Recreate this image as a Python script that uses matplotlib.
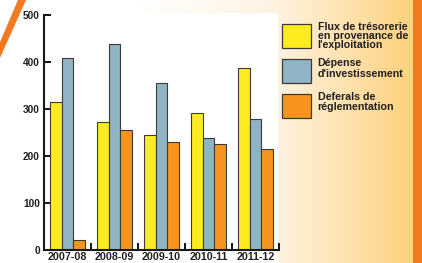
import numpy as np
import matplotlib
matplotlib.use("Agg")
import matplotlib.pyplot as plt
from matplotlib.patches import Rectangle, Polygon
from matplotlib.colors import LinearSegmentedColormap

categories = ["2007-08", "2008-09", "2009-10", "2010-11", "2011-12"]
series_names = ["Flux de trésorerie\nen provenance de\nl'exploitation",
                "Dépense\nd'investissement",
                "Deferals de\nréglementation"]
flux = [315, 272, 244, 292, 388]
depense = [408, 438, 356, 237, 279]
deferals = [20, 254, 229, 224, 214]
yticks = [0, 100, 200, 300, 400, 500]

colors = ["#FCEC1E", "#8FB4C4", "#F7941E"]
edge = "#3a3a3a"
W, H = 422, 263
plt.rcParams['font.family'] = ['Liberation Sans', 'DejaVu Sans']

fig = plt.figure(figsize=(W / 100, H / 100), dpi=100)

# background
bg = fig.add_axes([0, 0, 1, 1], zorder=0)
bg.set_xlim(0, W); bg.set_ylim(H, 0); bg.axis('off')
grad = np.linspace(0, 1, 300)[None, :]
cmap = LinearSegmentedColormap.from_list("g", ["#FFFFFF", "#FFFFFF", "#FEF3E2", "#FDD27E"], N=256)
bg.imshow(grad, extent=[0, 413, H, 0], aspect='auto', cmap=cmap, zorder=0)
bg.add_patch(Rectangle((0, 13), 278, H - 13, facecolor='white', edgecolor='none', zorder=1))
bg.add_patch(Rectangle((413, 0), W - 413, H, facecolor='#F47920', edgecolor='none', zorder=2))
bg.add_patch(Polygon([(18, 0), (26, 0), (0, 58), (0, 42)], closed=True,
                     facecolor='#F47920', edgecolor='none', zorder=2))

# legend
leg_y = [24, 59, 94]
spacings = [0.82, 1.2, 0.95]
for i, (name, c) in enumerate(zip(series_names, colors)):
    bg.add_patch(Rectangle((282, leg_y[i]), 29, 23.5, facecolor=c, edgecolor=edge,
                           linewidth=0.9, zorder=3))
    bg.text(317.5, leg_y[i] - 1.5, name, fontsize=7.7, fontweight='bold', color='#231F20',
            va='top', ha='left', linespacing=spacings[i], zorder=3)

# main axes
left = 44 / W
bottom = (H - 249.5) / H
ax = fig.add_axes([left, bottom, (279 - 44) / W, (249.5 - 15) / H], zorder=1)
ax.patch.set_alpha(0)
x = np.arange(len(categories))
bw = 0.255
for k, (vals, c) in enumerate(zip([flux, depense, deferals], colors)):
    ax.bar(x + (k - 1) * bw, vals, width=bw, color=c, edgecolor=edge, linewidth=0.8, zorder=2)

ax.set_xlim(-0.5, 4.5)
ax.set_ylim(0, 500)
ax.set_yticks(yticks)
ax.set_yticklabels([str(v) for v in yticks], fontsize=7.3, fontweight='bold', color='#231F20')
ax.set_xticks(x)
ax.set_xticklabels(categories, fontsize=7.7, fontweight='bold', color='#231F20')
ax.set_xticks(np.arange(0.5, 5, 1), minor=True)
ax.tick_params(axis='x', which='major', length=0, pad=2)
ax.tick_params(axis='x', which='minor', direction='in', length=5, width=1.3)
ax.tick_params(axis='y', direction='in', length=5, width=1.3, pad=3)
for s in ['top', 'right']:
    ax.spines[s].set_visible(False)
for s in ['left', 'bottom']:
    ax.spines[s].set_linewidth(1.5)
    ax.spines[s].set_color('#1a1a1a')

fig.savefig("out.png", dpi=100)
